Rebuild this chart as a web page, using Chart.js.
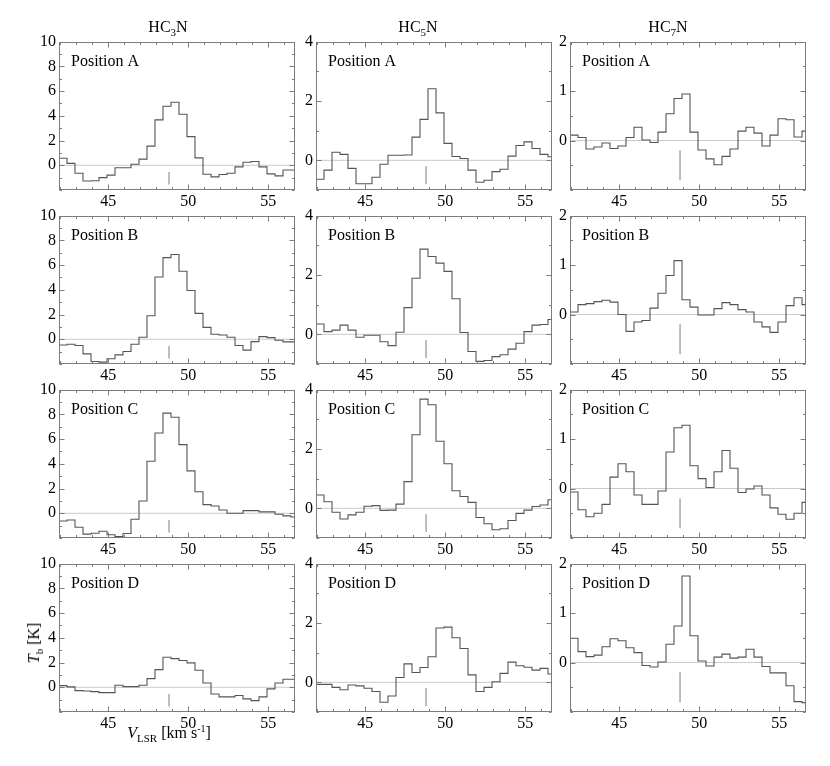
<!DOCTYPE html>
<html>
<head>
<meta charset="utf-8">
<script src="https://cdn.jsdelivr.net/npm/chart.js@4.4.0/dist/chart.umd.min.js"></script>
<style>
  html, body { margin: 0; padding: 0; background: #fff; }
  #fig { position: relative; width: 830px; height: 766px; background: #fff; overflow: hidden;
         font-family: "Liberation Serif", "Times New Roman", serif; color: #000; }
  .pc { position: absolute; }
  .txt { position: absolute; font-size: 16px; line-height: 16px; white-space: nowrap; }
  .txt sub { font-size: 11px; vertical-align: -4px; line-height: 0; }
  .txt sup { font-size: 10px; vertical-align: 6px; line-height: 0; }
</style>
</head>
<body>
<div id="fig"></div>
<script>
// ---------------- data ----------------
// channel centre velocities (km/s), 0.5 km/s channels
const velocity = [42.17, 42.67, 43.17, 43.67, 44.17, 44.67, 45.17, 45.67, 46.17, 46.67,
                  47.17, 47.67, 48.17, 48.67, 49.17, 49.67, 50.17, 50.67, 51.17, 51.67,
                  52.17, 52.67, 53.17, 53.67, 54.17, 54.67, 55.17, 55.67, 56.17, 56.67];
const channelWidth = 0.5;
const velocityRange = [41.92, 56.67];
const velocityTicks = [45, 50, 55];
const markerVelocity = 48.8;

const molecules = ["HC<sub>3</sub>N", "HC<sub>5</sub>N", "HC<sub>7</sub>N"];
const positionLabels = ["Position A", "Position B", "Position C", "Position D"];

// HC3N  (T_b in K)
const hc3nA = [0.57, 0.15, -0.65, -1.27, -1.25, -1.0, -0.8, -0.2, -0.2, 0.08, 0.5, 1.55, 3.67, 4.77, 5.1,
               4.12, 2.32, 0.6, -0.73, -0.94, -0.75, -0.65, -0.13, 0.25, 0.3, -0.13, -0.7, -0.86, -0.38, -0.38];
const hc3nB = [-0.46, -0.40, -0.51, -1.18, -1.80, -1.85, -1.58, -1.26, -0.99, -0.40, 0.16, 1.90, 5.04, 6.60, 6.86,
               5.50, 3.94, 2.09, 0.96, 0.40, 0.35, 0.16, -0.51, -0.88, -0.19, 0.21, 0.13, -0.08, -0.21, -0.21];
const hc3nC = [-0.62, -0.54, -1.13, -1.69, -1.61, -1.45, -1.74, -1.88, -1.64, -0.48, 0.99, 4.21, 6.49, 8.10, 7.77,
               5.55, 3.43, 1.74, 0.70, 0.59, 0.27, 0.0, 0.0, 0.21, 0.21, 0.11, 0.11, -0.08, -0.21, -0.3];
const hc3nD = [0.13, 0.03, -0.27, -0.30, -0.35, -0.43, -0.43, 0.16, 0.05, 0.05, 0.16, 0.70, 1.43, 2.43, 2.32,
               2.16, 1.97, 1.37, 0.35, -0.54, -0.78, -0.78, -0.67, -0.94, -1.08, -0.78, -0.13, 0.35, 0.65, 0.65];
// HC5N
const hc5nA = [-0.64, -0.33, 0.27, 0.2, -0.27, -0.79, -0.79, -0.57, -0.13, 0.17, 0.17, 0.18, 0.78, 1.38, 2.41,
               1.6, 0.57, 0.13, 0.06, -0.33, -0.74, -0.67, -0.38, -0.3, 0.14, 0.5, 0.62, 0.4, 0.2, 0.12];
const hc5nB = [0.35, 0.09, 0.14, 0.31, 0.14, -0.10, -0.03, -0.03, -0.25, -0.38, 0.07, 0.90, 1.89, 2.87, 2.62,
               2.40, 2.12, 1.20, 0.06, -0.58, -0.91, -0.88, -0.75, -0.69, -0.50, -0.30, 0.09, 0.31, 0.33, 0.50];
const hc5nC = [0.45, 0.22, -0.13, -0.36, -0.22, -0.13, 0.07, 0.09, -0.07, -0.06, 0.14, 0.90, 2.48, 3.68, 3.49,
               2.26, 1.50, 0.59, 0.40, 0.20, -0.31, -0.52, -0.72, -0.69, -0.41, -0.17, -0.06, 0.06, 0.11, 0.29];
const hc5nD = [-0.07, -0.07, -0.17, -0.25, -0.09, -0.12, -0.20, -0.31, -0.67, -0.46, 0.16, 0.62, 0.33, 0.50, 0.86,
               1.83, 1.86, 1.50, 1.14, 0.25, -0.31, -0.17, 0.02, 0.30, 0.68, 0.56, 0.51, 0.41, 0.47, 0.28];
// HC7N
const hc7nA = [0.11, 0.06, -0.17, -0.13, -0.05, -0.16, -0.11, 0.06, 0.27, 0.01, -0.04, 0.17, 0.54, 0.85, 0.94,
               0.17, -0.19, -0.37, -0.49, -0.32, -0.17, 0.19, 0.27, 0.15, -0.11, 0.11, 0.44, 0.42, 0.07, 0.19];
const hc7nB = [0.05, 0.20, 0.22, 0.26, 0.29, 0.25, 0.0, -0.34, -0.15, -0.12, 0.13, 0.43, 0.79, 1.09, 0.30,
               0.15, -0.01, -0.01, 0.12, 0.24, 0.20, 0.10, 0.05, -0.15, -0.25, -0.36, -0.15, 0.18, 0.34, 0.20];
const hc7nC = [-0.07, -0.43, -0.57, -0.50, -0.32, 0.23, 0.50, 0.34, -0.13, -0.32, -0.32, -0.05, 0.74, 1.23, 1.28,
               0.46, 0.20, 0.02, 0.34, 0.77, 0.41, -0.08, -0.01, 0.05, -0.13, -0.39, -0.52, -0.62, -0.50, -0.28];
const hc7nD = [0.49, 0.22, 0.12, 0.15, 0.32, 0.48, 0.44, 0.30, 0.20, -0.06, -0.09, 0.01, 0.37, 0.74, 1.75,
               0.54, 0.03, -0.07, 0.11, 0.17, 0.09, 0.11, 0.27, 0.11, -0.08, -0.21, -0.21, -0.47, -0.79, -0.81];

const hc3nSeries = [hc3nA, hc3nB, hc3nC, hc3nD];
const hc5nSeries = [hc5nA, hc5nB, hc5nC, hc5nD];
const hc7nSeries = [hc7nA, hc7nB, hc7nC, hc7nD];
const columnSeries = [hc3nSeries, hc5nSeries, hc7nSeries];

// per-column temperature axes
const yRanges = [[-2, 10], [-1, 4], [-1, 2]];
const yTickLabels = [[0, 2, 4, 6, 8, 10], [0, 2, 4], [0, 1, 2]];
const yMinorSteps = [1, 1, 0.5];
const markerSpans = [[-0.55, -1.55], [-0.2, -0.8], [-0.2, -0.8]];

// ---------------- layout ----------------
const panelLefts = [59, 316, 570];
const panelTops = [41, 215, 389, 563];
const PANEL_W = 236, PANEL_H = 149;
const PAD_L = 44, PAD_R = 12, PAD_T = 12, PAD_B = 26;
const FONT = '"Liberation Serif", "Times New Roman", serif';

const fig = document.getElementById('fig');

function framePlugin(cfg) {
  return {
    id: 'panelFrame',
    afterDatasetsDraw(chart) {
      const ctx = chart.ctx, a = chart.chartArea;
      const xs = chart.scales.x, ys = chart.scales.y;
      const L = Math.round(a.left) + 0.5, R = Math.round(a.right) - 0.5;
      const T = Math.round(a.top) + 0.5, B = Math.round(a.bottom) - 0.5;
      ctx.save();
      ctx.strokeStyle = '#7c7c7c';
      ctx.lineWidth = 1;
      ctx.strokeRect(L, T, R - L, B - T);
      ctx.beginPath();
      for (let v = Math.ceil(xs.min); v <= xs.max; v += 1) {
        const px = Math.round(xs.getPixelForValue(v)) + 0.5;
        const len = cfg.xMajor.includes(v) ? 5 : 2.5;
        ctx.moveTo(px, B); ctx.lineTo(px, B - len);
        ctx.moveTo(px, T); ctx.lineTo(px, T + len);
      }
      for (let k = 0; ; k++) {
        const v = ys.min + k * cfg.yMinor;
        if (v > ys.max + 1e-9) break;
        const py = Math.round(ys.getPixelForValue(v)) + 0.5;
        const len = cfg.yMajor.some(t => Math.abs(t - v) < 1e-9) ? 5 : 2.5;
        ctx.moveTo(L, py); ctx.lineTo(L + len, py);
        ctx.moveTo(R, py); ctx.lineTo(R - len, py);
      }
      ctx.stroke();
      ctx.fillStyle = '#000';
      ctx.font = '16px ' + FONT;
      ctx.textBaseline = 'alphabetic';
      ctx.textAlign = 'left';
      ctx.fillText(cfg.label, a.left + 12, a.top + 24);
      ctx.restore();
    }
  };
}

function makePanel(col, row) {
  const values = columnSeries[col][row];
  const spectrum = velocity.map((v, i) => ({ x: v - channelWidth / 2, y: values[i] }));
  spectrum.push({ x: velocity[velocity.length - 1] + channelWidth / 2, y: values[values.length - 1] });

  const zeroLine = [{ x: velocityRange[0], y: 0 }, { x: velocityRange[1], y: 0 }];
  const marker = [{ x: markerVelocity, y: markerSpans[col][0] }, { x: markerVelocity, y: markerSpans[col][1] }];

  const w = PANEL_W + PAD_L + PAD_R, h = PANEL_H + PAD_T + PAD_B;
  const canvas = document.createElement('canvas');
  canvas.className = 'pc';
  canvas.width = w; canvas.height = h;
  canvas.style.width = w + 'px'; canvas.style.height = h + 'px';
  canvas.style.left = (panelLefts[col] - PAD_L) + 'px';
  canvas.style.top = (panelTops[row] - PAD_T) + 'px';
  fig.appendChild(canvas);

  const tickFont = { family: FONT, size: 16 };

  new Chart(canvas, {
    type: 'line',
    data: {
      datasets: [
        { data: spectrum, borderColor: '#555555', borderWidth: 1.1, stepped: 'before',
          pointRadius: 0, fill: false, tension: 0 },
        { data: zeroLine, borderColor: '#cacaca', borderWidth: 1, pointRadius: 0, fill: false },
        { data: marker, borderColor: '#b4b4b4', borderWidth: 1, pointRadius: 0, fill: false }
      ]
    },
    options: {
      responsive: false,
      animation: false,
      events: [],
      layout: { padding: { left: 0, right: PAD_R, top: PAD_T, bottom: 0 } },
      plugins: { legend: { display: false }, tooltip: { enabled: false }, title: { display: false } },
      scales: {
        x: {
          type: 'linear', min: velocityRange[0], max: velocityRange[1],
          afterBuildTicks: s => { s.ticks = velocityTicks.map(v => ({ value: v })); },
          afterFit: s => { s.height = PAD_B; },
          grid: { display: false, drawTicks: false },
          border: { display: false },
          ticks: { font: tickFont, color: '#000', padding: 2, maxRotation: 0, autoSkip: false }
        },
        y: {
          type: 'linear', min: yRanges[col][0], max: yRanges[col][1],
          afterBuildTicks: s => { s.ticks = yTickLabels[col].map(v => ({ value: v })); },
          afterFit: s => { s.width = PAD_L; },
          grid: { display: false, drawTicks: false },
          border: { display: false },
          ticks: { font: tickFont, color: '#000', padding: 3, autoSkip: false }
        }
      }
    },
    plugins: [framePlugin({ label: positionLabels[row], xMajor: velocityTicks,
                             yMajor: yTickLabels[col], yMinor: yMinorSteps[col] })]
  });
}

for (let row = 0; row < 4; row++) {
  for (let col = 0; col < 3; col++) makePanel(col, row);
}

// ---------------- text ----------------
function addText(html, left, top, extra) {
  const d = document.createElement('div');
  d.className = 'txt';
  d.innerHTML = html;
  d.style.left = left + 'px';
  d.style.top = top + 'px';
  if (extra) Object.assign(d.style, extra);
  fig.appendChild(d);
  return d;
}
const titleCenters = [168, 418, 668];
molecules.forEach((m, i) => addText(m, titleCenters[i], 19, { transform: 'translateX(-50%)' }));
addText('<i>V</i><sub>LSR</sub> [km s<sup>-1</sup>]', 169, 725, { transform: 'translateX(-50%)' });
addText('<i>T</i><sub>b</sub> [K]', 34, 643, { transform: 'translate(-50%,-50%) rotate(-90deg)' });
</script>
</body>
</html>
